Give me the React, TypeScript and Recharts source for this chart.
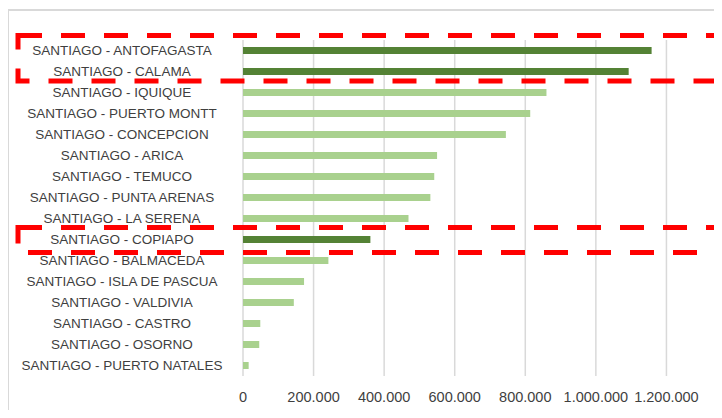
import React from "react";
import { BarChart, Bar, XAxis, YAxis, CartesianGrid, Cell } from "recharts";

const routes = [
  "SANTIAGO - ANTOFAGASTA",
  "SANTIAGO - CALAMA",
  "SANTIAGO - IQUIQUE",
  "SANTIAGO - PUERTO MONTT",
  "SANTIAGO - CONCEPCION",
  "SANTIAGO - ARICA",
  "SANTIAGO - TEMUCO",
  "SANTIAGO - PUNTA ARENAS",
  "SANTIAGO - LA SERENA",
  "SANTIAGO - COPIAPO",
  "SANTIAGO - BALMACEDA",
  "SANTIAGO - ISLA DE PASCUA",
  "SANTIAGO - VALDIVIA",
  "SANTIAGO - CASTRO",
  "SANTIAGO - OSORNO",
  "SANTIAGO - PUERTO NATALES",
];

const passengers = [
  1158000, 1093000, 860000, 814000, 745000, 550000, 542000, 531000,
  469000, 361000, 242000, 173000, 144000, 49000, 46000, 16000,
];

const highlighted = ["SANTIAGO - ANTOFAGASTA", "SANTIAGO - CALAMA", "SANTIAGO - COPIAPO"];

const xTicks = [0, 200000, 400000, 600000, 800000, 1000000, 1200000];

const data = routes.map((name, i) => ({ name, value: passengers[i] }));

const DARK = "#548235";
const LIGHT = "#A9D18E";
const FONT = "'Liberation Sans', Arial, sans-serif";

const fmt = (v: number) => v.toLocaleString("de-DE");

function RouteTick({ x, y, payload }: any) {
  return (
    <text
      x={x - 121}
      y={y}
      textAnchor="middle"
      dominantBaseline="central"
      fontFamily={FONT}
      fontSize={13.5}
      fill="#3f3f3f"
    >
      {payload.value}
    </text>
  );
}

export default function App() {
  return (
    <div
      style={{
        position: "relative",
        width: 722,
        height: 418,
        margin: -8,
        overflow: "hidden",
        background: "#fff",
      }}
    >
      <div
        style={{
          position: "absolute",
          left: 7,
          top: 9,
          width: 800,
          height: 500,
          border: "2px solid #d9d9d9",
          boxSizing: "border-box",
        }}
      />
      <BarChart
        width={760}
        height={418}
        layout="vertical"
        data={data}
        margin={{ top: 40, right: 23, bottom: 0, left: 0 }}
        style={{ position: "absolute", left: 0, top: 0 }}
      >
        <CartesianGrid horizontal={false} stroke="#d9d9d9" strokeWidth={1.5} />
        <XAxis
          type="number"
          domain={[0, 1400000]}
          ticks={xTicks}
          tickFormatter={fmt}
          axisLine={false}
          tickLine={false}
          tickSize={0}
          tickMargin={16}
          height={42}
          tick={{ fontFamily: FONT, fontSize: 14.5, fill: "#3f3f3f" }}
        />
        <YAxis
          type="category"
          dataKey="name"
          width={243}
          axisLine={false}
          tickLine={false}
          tickSize={0}
          tickMargin={0}
          interval={0}
          tick={<RouteTick />}
        />
        <Bar dataKey="value" barSize={7} isAnimationActive={false}>
          {data.map((d) => (
            <Cell key={d.name} fill={highlighted.includes(d.name) ? DARK : LIGHT} />
          ))}
        </Bar>
      </BarChart>
      <svg
        width={722}
        height={418}
        style={{ position: "absolute", left: 0, top: 0, pointerEvents: "none" }}
      >
        <rect
          x={18}
          y={35.5}
          width={800}
          height={45.5}
          fill="none"
          stroke="#ff0000"
          strokeWidth={5}
          strokeDasharray="24 19"
        />
        <rect
          x={18}
          y={227.5}
          width={800}
          height={25}
          fill="none"
          stroke="#ff0000"
          strokeWidth={5}
          strokeDasharray="24 19"
        />
      </svg>
    </div>
  );
}
